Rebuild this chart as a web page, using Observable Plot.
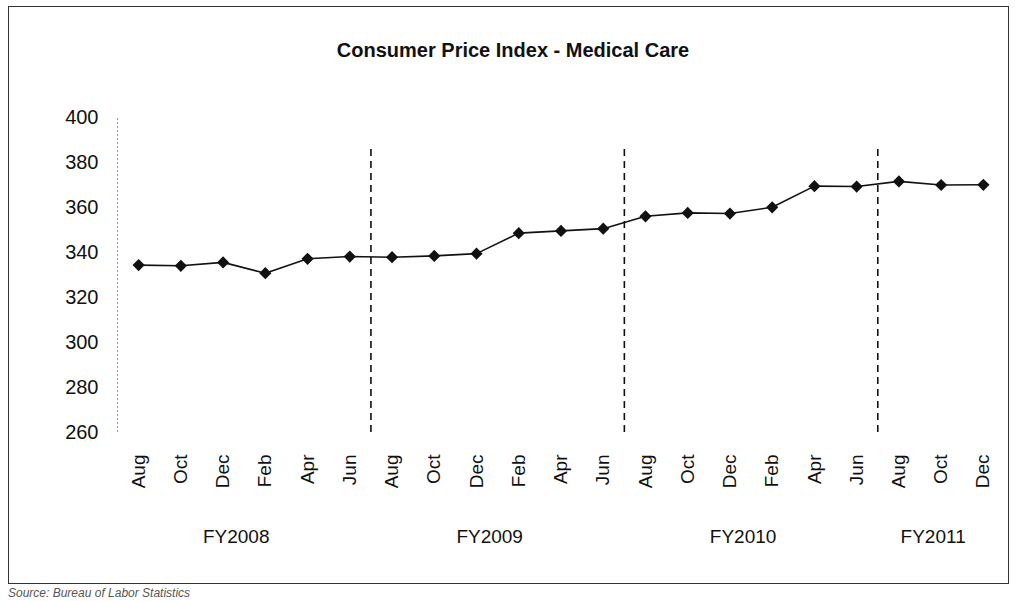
<!DOCTYPE html>
<html>
<head>
<meta charset="utf-8">
<script src="https://cdn.jsdelivr.net/npm/d3@7"></script>
<script src="https://cdn.jsdelivr.net/npm/@observablehq/plot@0.6"></script>
<style>
  html, body { margin: 0; padding: 0; background: #fff; }
  body { width: 1018px; height: 601px; overflow: hidden; position: relative; font-family: "Liberation Sans", Arial, sans-serif; }
  #frame { position: absolute; left: 8px; top: 6px; width: 1001px; height: 578px; border: 1px solid #333; box-sizing: border-box; }
  #title { position: absolute; left: 8px; width: 1010px; top: 40px; text-align: center; font-weight: bold; font-size: 20px; line-height: 20px; color: #111; }
  #chart { position: absolute; left: 0; top: 0; }
  #caption { position: absolute; left: 8px; top: 586px; font-size: 12px; line-height: 14px; font-style: italic; color: #555; }
</style>
</head>
<body>
<div id="frame"></div>
<div id="title">Consumer Price Index - Medical Care</div>
<div id="chart"></div>
<div id="caption">Source: Bureau of Labor Statistics</div>
<script>
// Data
const months = ["Aug","Oct","Dec","Feb","Apr","Jun",
                "Aug","Oct","Dec","Feb","Apr","Jun",
                "Aug","Oct","Dec","Feb","Apr","Jun",
                "Aug","Oct","Dec"];
const cpi = [334.4, 334.1, 335.6, 330.8, 337.2, 338.2,
             337.9, 338.5, 339.5, 348.6, 349.6, 350.6,
             356.1, 357.6, 357.3, 360.1, 369.5, 369.3,
             371.6, 370.0, 370.1];
const fiscalYears = ["FY2008", "FY2009", "FY2010", "FY2011"];
const fyFirstIndex = [0, 6, 12, 18];
const fyLastIndex = [5, 11, 17, 20];
const yTicks = [260, 280, 300, 320, 340, 360, 380, 400];

const data = months.map((m, i) => ({i, month: m, value: cpi[i]}));
const fyData = fiscalYears.map((fy, k) => ({
  fy,
  mid: (fyFirstIndex[k] + fyLastIndex[k]) / 2,
  boundary: fyFirstIndex[k] - 0.5
}));
const boundaries = fyData.slice(1);

const chart = Plot.plot({
  width: 1018,
  height: 560,
  marginLeft: 117,
  marginRight: 14,
  marginTop: 117,
  marginBottom: 128,
  style: {fontFamily: "'Liberation Sans', Arial, sans-serif", color: "#111", background: "transparent"},
  x: {domain: [-0.5, 20.5], axis: null, label: null},
  y: {domain: [260, 400], axis: null, label: null},
  marks: [
    Plot.axisY({ticks: yTicks, tickSize: 0, tickPadding: 19, fontSize: 20, tickFormat: d => d, label: null}),
    Plot.axisX({ticks: data.map(d => d.i), tickFormat: i => months[i], tickRotate: -90,
                tickSize: 0, tickPadding: 22, fontSize: 19, label: null}),
    Plot.ruleX([-0.5], {y1: 260, y2: 400, stroke: "#999", strokeWidth: 1, strokeDasharray: "2,2"}),
    Plot.ruleX(boundaries, {x: "boundary", y1: 260, y2: 388, stroke: "#111", strokeWidth: 1.6, strokeDasharray: "7,5"}),
    Plot.line(data, {x: "i", y: "value", stroke: "#111", strokeWidth: 1.6}),
    Plot.dot(data, {x: "i", y: "value", symbol: "diamond2", r: 5.5, fill: "#111", stroke: null}),
    Plot.text(fyData, {x: "mid", y: 260, text: "fy", dy: 104, dx: -8, fontSize: 19, fill: "#111"})
  ]
});
document.getElementById("chart").appendChild(chart);
</script>
</body>
</html>
